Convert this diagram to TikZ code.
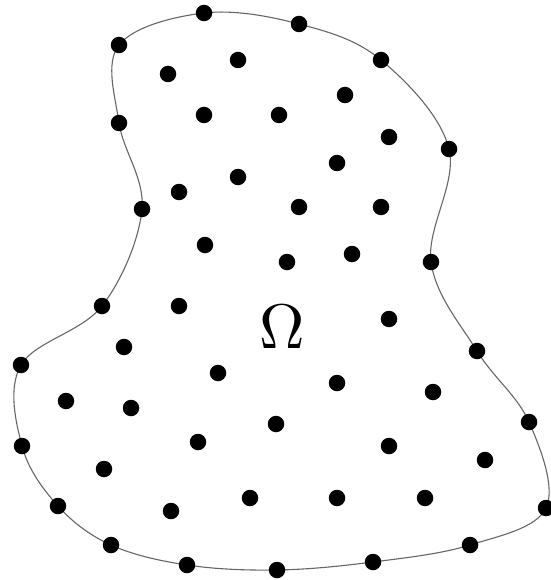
\documentclass[tikz,border=0pt]{standalone}
\begin{document}
\begin{tikzpicture}[x=1pt,y=-1pt,
  dot/.style={circle,fill=black,inner sep=0pt,minimum size=16.5pt},
  bd/.style={draw=black!60,line width=1.1pt}]
\useasboundingbox (0,0) rectangle (550,580);
\draw[bd] plot[smooth cycle,tension=0.6] coordinates {
 (204,13) (299,24) (381,60) (449,149) (431,262) (477,351) (529,422) (546,508)
 (470,545) (373,562) (277,570) (187,565) (111,545) (58,506) (22,446) (21,365)
 (102,306) (142,209) (119,123) (119,45)};
\foreach \p [count=\i] in {(204,13),(299,24),(381,60),(449,149),(431,262),(477,351),(529,422),(546,508),
 (470,545),(373,562),(277,570),(187,565),(111,545),(58,506),(22,446),(21,365),
 (102,306),(142,209),(119,123),(119,45)}
  \node[dot] (b\i) at \p {};
\foreach \p [count=\i] in {(168,74),(238,60),(345,95),(204,115),(279,115),(389,137),(337,163),
 (238,177),(179,192),(299,207),(381,207),(205,245),(287,262),(352,254),(179,306),
 (389,319),(124,347),(218,373),(337,383),(433,392),(66,401),(131,408),(276,424),
 (198,442),(389,446),(485,460),(104,469),(250,498),(337,498),(425,498),(171,511)}
  \node[dot] (i\i) at \p {};
\node (omega) at (282,327) {\scalebox{6.3}{$\Omega$}};
\end{tikzpicture}
\end{document}
